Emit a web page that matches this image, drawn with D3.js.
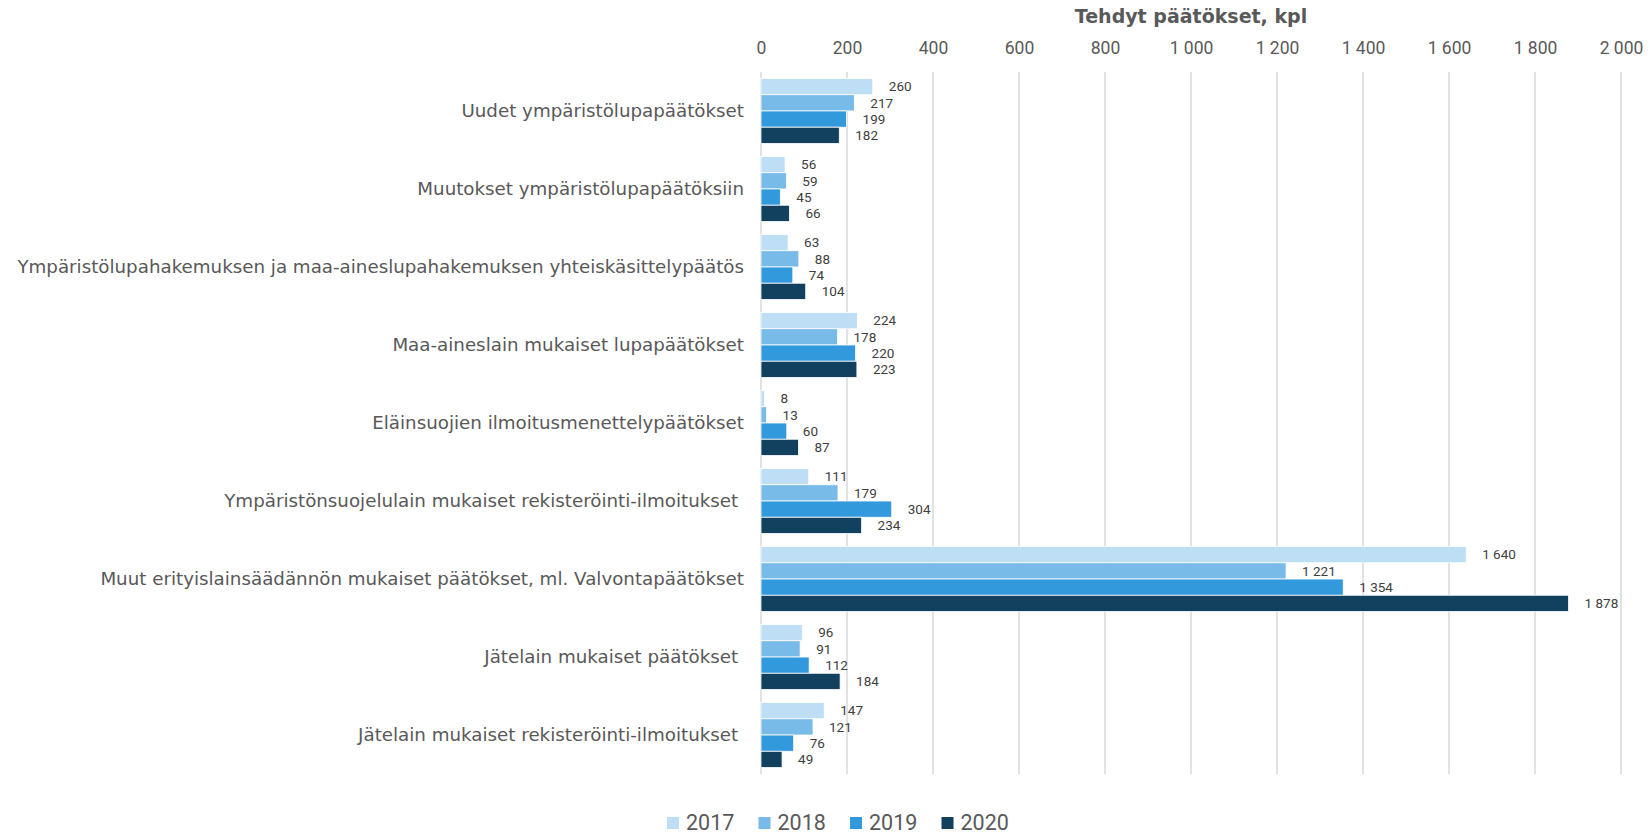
<!DOCTYPE html>
<html>
<head>
<meta charset="utf-8">
<script src="https://cdn.jsdelivr.net/npm/d3@7"></script>
<style>
    body { margin: 0; background: #fff; }
    svg text { font-family: Roboto, "Open Sans", sans-serif; }
</style>
</head>
<body>
<div id="chart"></div>
<script>
const categories = [
    "Uudet ympäristölupapäätökset",
    "Muutokset ympäristölupapäätöksiin",
    "Ympäristölupahakemuksen ja maa-aineslupahakemuksen yhteiskäsittelypäätös",
    "Maa-aineslain mukaiset lupapäätökset",
    "Eläinsuojien ilmoitusmenettelypäätökset",
    "Ympäristönsuojelulain mukaiset rekisteröinti-ilmoitukset ",
    "Muut erityislainsäädännön mukaiset päätökset, ml. Valvontapäätökset",
    "Jätelain mukaiset päätökset ",
    "Jätelain mukaiset rekisteröinti-ilmoitukset "
];
const years = ["2017", "2018", "2019", "2020"];
const values2017 = [260, 56, 63, 224, 8, 111, 1640, 96, 147];
const values2018 = [217, 59, 88, 178, 13, 179, 1221, 91, 121];
const values2019 = [199, 45, 74, 220, 60, 304, 1354, 112, 76];
const values2020 = [182, 66, 104, 223, 87, 234, 1878, 184, 49];
const xTicks = [0, 200, 400, 600, 800, 1000, 1200, 1400, 1600, 1800, 2000];
const colors = ["#bddef4", "#78bae8", "#3399dd", "#12405f"];
const axisTitle = "Tehdyt päätökset, kpl";

const series = [values2017, values2018, values2019, values2020];

const width = 1650, height = 835;
const plot = {left: 761, right: 1621, top: 72, bottom: 774};

const fi = d3.formatLocale({decimal: ",", thousands: "\u00a0", grouping: [3], currency: ["", " €"]});
const fmt = fi.format(",d");

const svg = d3.select("#chart").append("svg")
    .attr("width", width)
    .attr("height", height);

const x = d3.scaleLinear().domain([0, 2000]).range([plot.left, plot.right]);
const y = d3.scaleBand().domain(categories).range([plot.top, plot.bottom])
    .paddingInner(0.167).paddingOuter(0.083);
const ySub = d3.scaleBand().domain(years).range([0, y.bandwidth()]);

// gridlines
svg.append("g").selectAll("line")
    .data(xTicks)
    .enter().append("line")
    .attr("x1", d => x(d)).attr("x2", d => x(d))
    .attr("y1", plot.top).attr("y2", plot.bottom)
    .attr("stroke", "#d9d9d9")
    .attr("stroke-width", 1.5);

// top axis labels
const axis = svg.append("g")
    .attr("transform", `translate(0,${plot.top})`)
    .call(d3.axisTop(x).tickValues(xTicks).tickFormat(fmt).tickSize(0).tickPadding(24));
axis.select(".domain").remove();
axis.selectAll("text")
    .attr("font-size", 17.5)
    .attr("fill", "#595959")
    .attr("dy", "0.32em")
    .style("font-family", "Roboto, sans-serif");

svg.append("text")
    .attr("x", (plot.left + plot.right) / 2)
    .attr("y", 23)
    .attr("text-anchor", "middle")
    .attr("font-size", 19)
    .attr("font-weight", "bold")
    .attr("fill", "#595959")
    .style("font-family", "'DejaVu Sans', sans-serif")
    .text(axisTitle);

// category labels
svg.append("g").selectAll("text")
    .data(categories)
    .enter().append("text")
    .attr("x", plot.left - 17)
    .attr("y", d => y(d) + y.bandwidth() / 2)
    .attr("dy", "0.35em")
    .attr("text-anchor", "end")
    .attr("font-size", 18.25)
    .attr("fill", "#595959")
    .style("font-family", "'DejaVu Sans', sans-serif")
    .style("white-space", "pre")
    .text(d => d);

// bars
const groups = svg.append("g").selectAll("g")
    .data(years)
    .enter().append("g")
    .attr("fill", (d, i) => colors[i]);

groups.selectAll("rect")
    .data((yr, i) => series[i].map((v, j) => ({cat: categories[j], yr: yr, v: v})))
    .enter().append("rect")
    .attr("x", x(0))
    .attr("y", d => y(d.cat) + ySub(d.yr))
    .attr("width", d => x(d.v) - x(0))
    .attr("height", ySub.bandwidth())
    .attr("stroke", "#fff")
    .attr("stroke-width", 0.8);

// value labels
groups.selectAll("text")
    .data((yr, i) => series[i].map((v, j) => ({cat: categories[j], yr: yr, v: v})))
    .enter().append("text")
    .attr("x", d => x(d.v) + 16)
    .attr("y", d => y(d.cat) + ySub(d.yr) + ySub.bandwidth() / 2)
    .attr("dy", "0.35em")
    .attr("font-size", 13.5)
    .attr("fill", "#404040")
    .text(d => fmt(d.v));

// legend
const legend = svg.append("g").selectAll("g")
    .data(years)
    .enter().append("g")
    .attr("transform", (d, i) => `translate(${667 + i * 91.5},817)`);

legend.append("rect")
    .attr("width", 12).attr("height", 12)
    .attr("fill", (d, i) => colors[i]);

legend.append("text")
    .attr("x", 19)
    .attr("y", 13)
    .attr("font-size", 21.5)
    .attr("fill", "#595959")
    .text(d => d);
</script>
</body>
</html>
